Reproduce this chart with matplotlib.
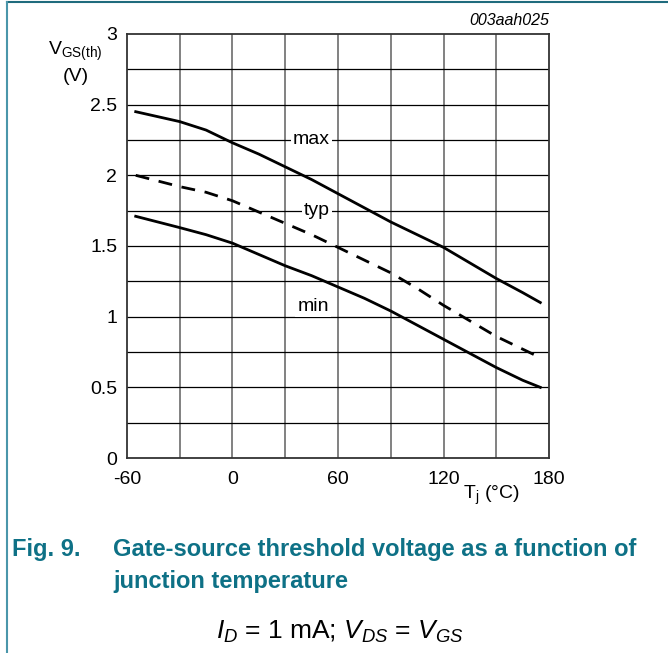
import matplotlib.pyplot as plt
from matplotlib.lines import Line2D

plt.rcParams['font.family'] = ['Liberation Sans', 'DejaVu Sans']
plt.rcParams['mathtext.fontset'] = 'custom'
plt.rcParams['mathtext.rm'] = 'Liberation Sans'
plt.rcParams['mathtext.it'] = 'Liberation Sans:italic'

# junction temperature (degC) and threshold voltage (V)
tj = [-55, -30, -15, 0, 15, 30, 45, 60, 75, 90, 105, 120, 135, 150, 165, 175]
v_max = [2.45, 2.38, 2.32, 2.23, 2.15, 2.06, 1.97, 1.87, 1.77, 1.67, 1.58, 1.49, 1.38, 1.27, 1.17, 1.10]
v_typ = [2.00, 1.92, 1.88, 1.82, 1.74, 1.66, 1.58, 1.49, 1.40, 1.31, 1.20, 1.08, 0.97, 0.86, 0.77, 0.71]
v_min = [1.71, 1.63, 1.58, 1.52, 1.44, 1.36, 1.29, 1.21, 1.13, 1.04, 0.94, 0.84, 0.74, 0.64, 0.55, 0.50]

xticks = [-60, 0, 60, 120, 180]
yticks = [0, 0.5, 1, 1.5, 2, 2.5, 3]

fig = plt.figure(figsize=(6.68, 6.53), dpi=100)
ax = fig.add_axes([0.190, 0.2986, 0.632, 0.6494])

# grid: grey verticals every 30 degC, black horizontals every 0.25 V
for x in range(-30, 180, 30):
    ax.axvline(x, color='#777777', lw=1.3, zorder=1)
for k in range(1, 12):
    ax.axhline(k * 0.25, color='black', lw=0.9, zorder=1)

ax.plot(tj, v_max, color='black', lw=2, zorder=3)
ax.plot(tj, v_typ, color='black', lw=2, ls=(0, (5, 3.5)), zorder=3)
ax.plot(tj, v_min, color='black', lw=2, zorder=3)

box = dict(facecolor='white', edgecolor='none', pad=1.5)
ax.text(45, 2.25, 'max', fontsize=14, ha='center', va='center', bbox=box, zorder=4)
ax.text(48, 1.75, 'typ', fontsize=14, ha='center', va='center', bbox=box, zorder=4)
ax.text(46, 1.07, 'min', fontsize=14, ha='center', va='center', bbox=box, zorder=4)

ax.set_xlim(-60, 180)
ax.set_ylim(0, 3)
ax.set_xticks(xticks)
ax.set_xticklabels([str(t) for t in xticks])
ax.set_yticks(yticks)
ax.set_yticklabels(['0', '0.5', '1', '1.5', '2', '2.5', '3'])
ax.tick_params(length=0, labelsize=14)
ax.tick_params(axis='x', pad=9)
ax.tick_params(axis='y', pad=7)
for s in ax.spines.values():
    s.set_linewidth(1.3)
    s.set_color('#333333')

fig.text(0.113, 0.922, r'$\mathrm{V}_{\mathrm{GS(th)}}$', fontsize=14, ha='center', va='center')
fig.text(0.113, 0.883, '(V)', fontsize=14, ha='center', va='center')
fig.text(0.735, 0.242, r'$\mathrm{T}_{\mathrm{j}}$ (°C)', fontsize=14, ha='center', va='center')
fig.text(0.822, 0.968, '003aah025', fontsize=11.5, style='italic', ha='right', va='center')

teal = '#0e7186'
fig.text(0.018, 0.159, 'Fig. 9.', fontsize=17, weight='bold', color=teal, va='center')
fig.text(0.169, 0.159, 'Gate-source threshold voltage as a function of', fontsize=17,
         weight='bold', color=teal, va='center')
fig.text(0.169, 0.109, 'junction temperature', fontsize=17, weight='bold', color=teal, va='center')
fig.text(0.509, 0.032, r'$I_D$ = 1 mA; $V_{DS}$ = $V_{GS}$', fontsize=19, ha='center', va='center')

fig.add_artist(Line2D([0.0105, 1], [0.997, 0.997], color='#1f6b7d', lw=1.5))
fig.add_artist(Line2D([0.0105, 0.0105], [0, 0.997], color='#4a96aa', lw=1.5))

fig.savefig('out.png', dpi=100)
